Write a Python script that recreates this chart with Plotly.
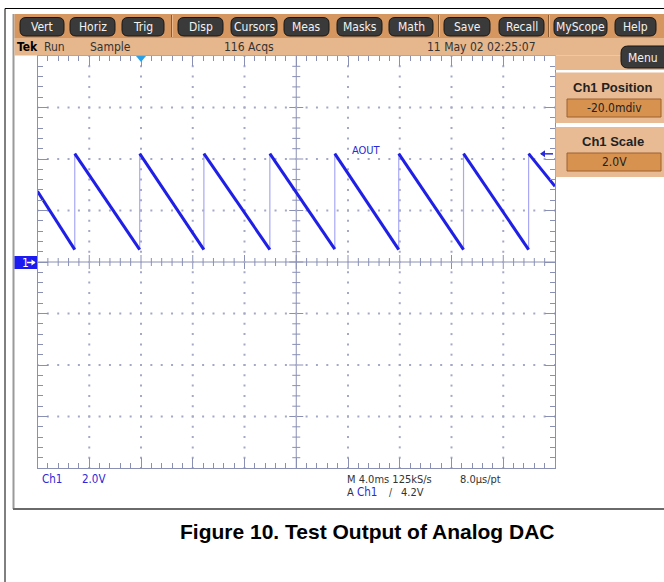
import plotly.graph_objects as go
import numpy as np

# ---------------- data ----------------
# time axis in ms (4 ms/div, 10 div), voltage in V (2 V/div, 8 div)
rise_times_ms = [2.88, 7.90, 12.86, 17.96, 22.98, 27.92, 32.93, 37.96]
peak_v = [4.21, 4.21, 4.21, 4.21, 4.21, 4.21, 4.21, 4.21]
trough_v = [0.48, 0.48, 0.48, 0.48, 0.50, 0.48, 0.48, 0.48]
start_v = 2.75
end_v = 2.94
t_end_ms = 40.0
trigger_level_v = 4.2
trigger_time_ms = 8.0

menu_buttons = ["Vert", "Horiz", "Trig", "Disp", "Cursors", "Meas", "Masks",
                "Math", "Save", "Recall", "MyScope", "Help"]
status_texts = ["Tek", "Run", "Sample", "116 Acqs", "11 May 02 02:25:07"]

# ---------------- style / geometry ----------------
W, H = 664, 582
GX0, GX1, GY0, GY1 = 37.5, 555.0, 56.0, 468.0
GRAT = "#8a90b4"
TRACE = "#1f1fe6"
RISE = "#a8a8f5"
BLUE_TXT = "#2a2ad8"
TOOLBAR = "#d69660"
STATUS = "#e6b68c"
PANEL = "#e9bb94"
VALBOX = "#d8924f"
BTN = "#3a3a3a"
NARROW = "Liberation Sans Narrow, DejaVu Sans Condensed, Arial Narrow, sans-serif"

fig = go.Figure()

# graticule dots on the non-centre division lines
dx, dy = [], []
for xv in [4, 8, 12, 16, 24, 28, 32, 36]:
    for yv in np.arange(-8, 8.001, 0.4):
        dx.append(xv); dy.append(yv)
for yv in [-6, -4, -2, 2, 4, 6]:
    for xv in np.arange(0, 40.001, 0.8):
        dx.append(xv); dy.append(yv)
fig.add_trace(go.Scatter(x=dx, y=dy, mode="markers",
                         marker=dict(size=2, color="#a4a8c6", symbol="square"),
                         hoverinfo="skip"))

# waveform: ramps (thick) and fast rising edges (thin)
rx, ry = [0.0, rise_times_ms[0], None], [start_v, trough_v[0], None]
for i in range(len(rise_times_ms)):
    t0 = rise_times_ms[i]
    if i + 1 < len(rise_times_ms):
        t1, v1 = rise_times_ms[i + 1], trough_v[i + 1]
    else:
        t1, v1 = t_end_ms, end_v
    rx += [t0, t1, None]
    ry += [peak_v[i], v1, None]
ex, ey = [], []
for i, t in enumerate(rise_times_ms):
    ex += [t, t, None]
    ey += [trough_v[i], peak_v[i], None]
fig.add_trace(go.Scatter(x=ex, y=ey, mode="lines",
                         line=dict(color=RISE, width=1.2), hoverinfo="skip"))
fig.add_trace(go.Scatter(x=rx, y=ry, mode="lines",
                         line=dict(color=TRACE, width=3.0), hoverinfo="skip"))

# invisible trace on the pixel overlay
fig.add_trace(go.Scatter(x=[0], y=[0], xaxis="x2", yaxis="y2", mode="markers",
                         marker=dict(size=1, opacity=0), hoverinfo="skip"))

shapes = []
ann = []

def rect(x0, y0, x1, y1, fill, line=None, lw=0, layer="above"):
    shapes.append(dict(type="rect", xref="x2", yref="y2", x0=x0, y0=y0, x1=x1, y1=y1,
                       fillcolor=fill, line=dict(color=line or fill, width=lw), layer=layer))

def pill(x0, y0, x1, y1, r, fill, line):
    p = (f"M {x0+r},{y0} L {x1-r},{y0} Q {x1},{y0} {x1},{y0+r} L {x1},{y1-r} "
         f"Q {x1},{y1} {x1-r},{y1} L {x0+r},{y1} Q {x0},{y1} {x0},{y1-r} "
         f"L {x0},{y0+r} Q {x0},{y0} {x0+r},{y0} Z")
    shapes.append(dict(type="path", xref="x2", yref="y2", path=p, fillcolor=fill,
                       line=dict(color=line, width=1), layer="above"))

def text(s, x, y, size=12, color="#222", family=NARROW, anchor="left", bold=False):
    if bold:
        s = f"<b>{s}</b>"
    ann.append(dict(xref="x2", yref="y2", x=x, y=y, text=s, showarrow=False,
                    xanchor=anchor, yanchor="middle",
                    font=dict(size=size, color=color, family=family)))

def line(x0, y0, x1, y1, color, w=1, ref=("x2", "y2")):
    shapes.append(dict(type="line", xref=ref[0], yref=ref[1], x0=x0, y0=y0, x1=x1, y1=y1,
                       line=dict(color=color, width=w), layer="above"))

# outer page frame
line(5, 8.5, 664, 8.5, "#000", 1)
line(5, 8.5, 5, 582, "#000", 1)
# screenshot frame
line(13.5, 14, 13.5, 509, "#9a9a9a", 2)
line(13, 509, 664, 509, "#6a6a6a", 2)

# toolbar and status bar
rect(14.5, 14, 664, 38, TOOLBAR)
rect(14.5, 38, 664, 55.5, STATUS)
rect(555, 55.5, 664, 70, STATUS)
btn_x = [(20, 64), (70, 115), (122, 164), (178, 223), (231, 277), (284, 329),
         (337, 382), (389, 433), (444, 490), (499, 544), (554, 607), (615, 656)]
for (x0, x1), name in zip(btn_x, menu_buttons):
    pill(x0, 17.5, x1, 36, 6, BTN, "#161616")
    text(name, (x0 + x1) / 2, 27, 12, "#f2f2f2", anchor="center")
for sx in [171.5, 438.5, 548.5]:
    line(sx, 15, sx, 37, "#8a5a30", 1)
    line(sx + 1, 15, sx + 1, 37, "#eab88c", 1)
st_x = [15, 42, 88, 222, 425]
for s, x in zip(status_texts, st_x):
    if s == "Tek":
        text(s, x, 47, 12, "#000", bold=True)
    else:
        text(s, x, 47, 12, "#333")

# menu button and right-side panel
pill(621, 46, 672, 68, 7, BTN, "#161616")
text("Menu", 643, 57.5, 12, "#f2f2f2", anchor="center")
rect(555.5, 72.5, 664, 123, PANEL)
rect(555.5, 127, 664, 177, PANEL)
text("Ch1 Position", 613, 87, 13, "#222", "Liberation Sans, Arial, sans-serif", "center", True)
text("Ch1 Scale", 613, 141, 13, "#222", "Liberation Sans, Arial, sans-serif", "center", True)
rect(567, 99, 661, 117, VALBOX, "#9a6030", 1)
rect(567, 153, 661, 171, VALBOX, "#9a6030", 1)
text("-20.0mdiv", 614, 108, 12, "#222", anchor="center")
text("2.0V", 614, 162, 12, "#222", anchor="center")

# channel ground marker, trigger markers
rect(14.5, 256, 37, 269, "#1c1cf0")
text("1", 20, 262.5, 12, "#fff", anchor="left")
line(27, 262.5, 35, 262.5, "#fff", 1.5)
shapes.append(dict(type="path", xref="x2", yref="y2", path="M 35.5,262.5 L 31.5,259.5 L 31.5,265.5 Z",
                   fillcolor="#fff", line=dict(color="#fff", width=0), layer="above"))
tx = GX0 + trigger_time_ms / t_end_ms * (GX1 - GX0)
shapes.append(dict(type="path", xref="x2", yref="y2",
                   path=f"M {tx-5},{GY0} L {tx+5},{GY0} L {tx},{GY0+6} Z",
                   fillcolor="#2aa0e8", line=dict(color="#2a70e0", width=0), layer="above"))
ty = GY0 + (8 - trigger_level_v) / 16 * (GY1 - GY0)
line(541, ty, 553, ty, BLUE_TXT, 1.5)
shapes.append(dict(type="path", xref="x2", yref="y2",
                   path=f"M {540},{ty} L {545},{ty-3.5} L {545},{ty+3.5} Z",
                   fillcolor=BLUE_TXT, line=dict(color=BLUE_TXT, width=0), layer="above"))
text("AOUT", 366, 150, 11, BLUE_TXT, anchor="center")

# bottom readouts
text("Ch1", 40, 479, 11.5, BLUE_TXT)
text("2.0V", 80, 479, 11.5, BLUE_TXT)
text("M 4.0ms 125kS/s", 345, 479, 11, "#333")
text("8.0µs/pt", 458, 479, 11, "#333")
text("A", 345, 492, 11, "#333")
text("Ch1", 355, 492, 11.5, BLUE_TXT)
text("/", 387, 492, 10, "#333")
text("4.2V", 399, 492, 11, "#333")

# caption
text("Figure 10. Test Output of Analog DAC", 367, 531, 21, "#000",
     "Liberation Sans, Arial, sans-serif", "center", True)

# centre cross of the graticule with ticks
shapes.append(dict(type="line", xref="x", yref="y", x0=20, x1=20, y0=-8, y1=8,
                   line=dict(color=GRAT, width=1), layer="below"))
shapes.append(dict(type="line", xref="x", yref="y", x0=0, x1=40, y0=0, y1=0,
                   line=dict(color=GRAT, width=1), layer="below"))
for k in range(1, 40):
    yv = -8 + k * 0.4
    half = 7 if k % 5 == 0 else 4
    shapes.append(dict(type="line", xref="x", yref="y", xsizemode="pixel", xanchor=20,
                       x0=-half, x1=half, y0=yv, y1=yv,
                       line=dict(color=GRAT, width=1), layer="below"))
for k in range(1, 50):
    xv = k * 0.8
    half = 7 if k % 5 == 0 else 4
    shapes.append(dict(type="line", xref="x", yref="y", ysizemode="pixel", yanchor=0,
                       y0=-half, y1=half, x0=xv, x1=xv,
                       line=dict(color=GRAT, width=1), layer="below"))

fig.update_layout(
    width=W, height=H, margin=dict(l=0, r=0, t=0, b=0),
    paper_bgcolor="#ffffff", plot_bgcolor="rgba(0,0,0,0)", showlegend=False,
    xaxis=dict(domain=[GX0 / W, GX1 / W], range=[0, t_end_ms], showline=True,
               linecolor=GRAT, linewidth=1, mirror="allticks", ticks="inside",
               ticklen=10, tickcolor=GRAT, tickwidth=1, tick0=0, dtick=4,
               minor=dict(ticks="inside", ticklen=5, tick0=0, dtick=0.8, tickcolor=GRAT),
               showticklabels=False, showgrid=False, zeroline=False, fixedrange=True),
    yaxis=dict(domain=[(H - GY1) / H, (H - GY0) / H], range=[-8, 8], showline=True,
               linecolor=GRAT, linewidth=1, mirror="allticks", ticks="inside",
               ticklen=10, tickcolor=GRAT, tickwidth=1, tick0=-8, dtick=2,
               minor=dict(ticks="inside", ticklen=5, tick0=-8, dtick=0.4, tickcolor=GRAT),
               showticklabels=False, showgrid=False, zeroline=False, fixedrange=True),
    xaxis2=dict(domain=[0, 1], range=[0, W], visible=False, anchor="y2", fixedrange=True),
    yaxis2=dict(domain=[0, 1], range=[H, 0], visible=False, anchor="x2", fixedrange=True),
    shapes=shapes, annotations=ann,
)

fig.write_html("out.html", config={"displayModeBar": False},
               post_script="document.body.style.margin='0';document.body.style.padding='0';document.body.style.overflow='hidden';")
